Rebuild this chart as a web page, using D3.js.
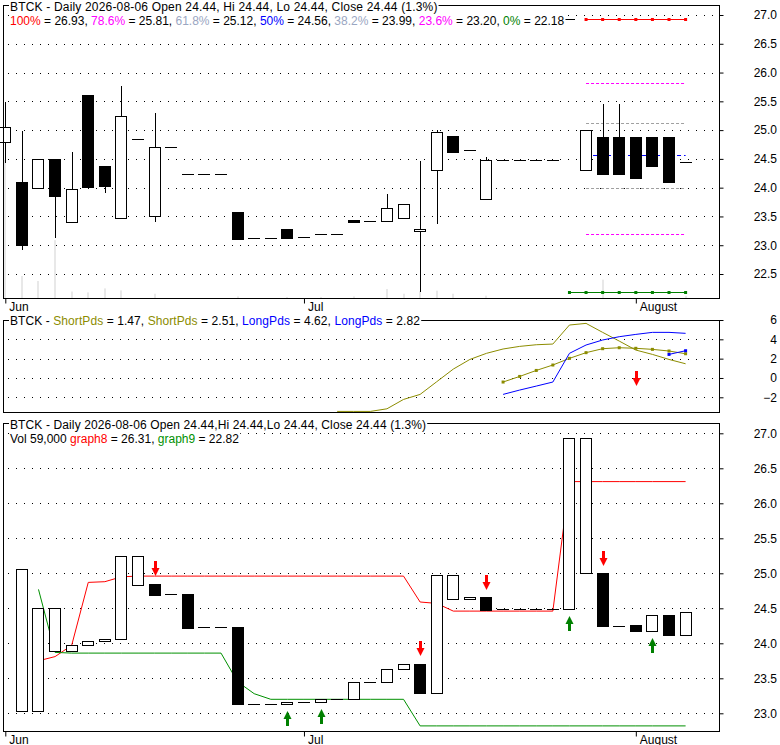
<!DOCTYPE html>
<html>
<head>
<meta charset="utf-8">
<script src="https://cdn.jsdelivr.net/npm/d3@7"></script>
<style>
  body { margin: 0; background: #fff; }
  svg { display: block; font-family: Arial, "Liberation Sans", sans-serif; font-size: 12px; }
  text { white-space: pre; }
</style>
</head>
<body>
<svg id="chart"></svg>
<script>
// ---- data ----
const months = ["Jun", "Jul", "August"];
const monthStart = [0, 18, 38];   // bar index where each month begins

const open  = [24.79, 24.10, 23.99, 24.49, 23.40, 25.61, 24.38, 23.47, 24.84, 23.51, 24.70, 24.23, 24.23, 24.23,
               23.58, 23.12, 23.12, 23.28, 23.14, 23.19, 23.19, 23.44, 23.42, 23.42, 23.47, 23.24, 24.30, 24.89,
               24.65, 23.80, 24.48, 24.48, 24.48, 24.48, 26.93, 24.31, 24.88, 24.88, 24.88, 24.88, 24.88, 24.44];
const high  = [25.49, 24.99, 24.49, 24.49, 24.62, 25.61, 24.38, 25.77, 24.84, 25.30, 24.70, 24.23, 24.23, 24.23,
               23.58, 23.12, 23.12, 23.28, 23.14, 23.19, 23.19, 23.44, 23.42, 23.89, 23.71, 24.46, 25.00, 24.89,
               24.65, 24.53, 24.48, 24.48, 24.48, 24.48, 26.93, 25.00, 25.45, 25.45, 24.88, 24.88, 24.88, 24.44];
const low   = [24.43, 22.91, 23.99, 23.13, 23.40, 24.02, 23.91, 23.47, 24.84, 23.41, 24.70, 24.23, 24.23, 24.23,
               23.11, 23.12, 23.12, 23.13, 23.14, 23.19, 23.19, 23.41, 23.42, 23.42, 23.47, 22.18, 23.37, 24.62,
               24.65, 23.80, 24.48, 24.48, 24.48, 24.48, 26.93, 24.31, 24.24, 24.24, 24.16, 24.38, 24.10, 24.44];
const close = [25.05, 23.01, 24.49, 23.86, 23.97, 24.02, 24.03, 25.24, 24.84, 24.70, 24.70, 24.23, 24.23, 24.23,
               23.11, 23.12, 23.12, 23.13, 23.14, 23.19, 23.19, 23.41, 23.42, 23.64, 23.71, 23.29, 24.96, 24.62,
               24.65, 24.48, 24.48, 24.48, 24.48, 24.48, 26.93, 25.00, 24.24, 24.24, 24.16, 24.38, 24.10, 24.44];
const volume = [3770000, 600000, 465000, 1580000, 177000, 153000, 262000, 207000, 0, 117000, 0, 0, 0, 0,
                44000, 0, 0, 27000, 0, 27000, 0, 44000, 0, 246000, 117000, 180000, 199000, 117000,
                0, 63000, 0, 0, 0, 0, 0, 0, 500000, 0, 0, 0, 0, 59000];

const fibLabels = ["100%", "78.6%", "61.8%", "50%", "38.2%", "23.6%", "0%"];
const fibValues = [26.93, 25.81, 25.12, 24.56, 23.99, 23.20, 22.18];
const fibFrom   = [35, 35, 35, 35, 35, 35, 34];

// middle panel series: first bar index + values
const shortPdsAFrom = 20;
const shortPdsA = [-3.46, -3.46, -3.46, -3.19, -2.22, -1.70, -0.39, 0.92, 1.92, 2.55, 3.00,
                   3.27, 3.44, 3.51, 5.48, 5.65, 4.72, 3.82, 2.89, 2.44, 1.92, 1.47];
const shortPdsBFrom = 30;
const shortPdsB = [-0.42, 0.16, 0.78, 1.34, 2.03, 2.62, 3.03, 3.13, 3.07, 2.96, 2.79, 2.51];
const longPdsAFrom = 30;
const longPdsA = [-1.70, -1.25, -0.84, -0.42, 2.55, 3.41, 3.93, 4.27, 4.51, 4.72, 4.72, 4.62];
const longPdsBFrom = 40;
const longPdsB = [2.44, 2.82];
const pdsDownBars = [38];
const pdsDownAt = [-0.79];

// lower panel: box from / to
const lowerFrom = [null, 23.04, 23.04, 23.89, 23.89, 23.97, 24.03, 24.06, 24.84, 24.85, 24.70, 24.70, 24.23, 24.23,
                   24.23, 23.13, 23.13, 23.13, 23.16, 23.16, 23.20, 23.20, 23.44, 23.44, 23.64, 23.71, 23.29, 24.63,
                   24.63, 24.66, 24.49, 24.49, 24.49, 24.49, 24.49, 25.00, 25.00, 24.25, 24.26, 24.17, 24.40, 24.12];
const lowerTo   = [null, 25.06, 24.50, 24.50, 23.97, 24.03, 24.06, 25.25, 25.25, 24.69, 24.70, 24.22, 24.23, 24.23,
                   23.13, 23.13, 23.13, 23.16, 23.16, 23.20, 23.20, 23.44, 23.44, 23.64, 23.71, 23.29, 24.97, 24.97,
                   24.66, 24.48, 24.49, 24.49, 24.49, 24.49, 26.93, 26.93, 24.25, 24.25, 24.17, 24.40, 24.12, 24.44];
const graph8 = [null, null, 23.75, 23.81, 23.97, 24.87, 24.88, 24.95, 24.96, 24.96, 24.96, 24.96, 24.96, 24.96,
                24.96, 24.96, 24.96, 24.96, 24.96, 24.96, 24.96, 24.96, 24.96, 24.96, 24.96, 24.59, 24.57, 24.46,
                24.46, 24.46, 24.46, 24.46, 24.46, 24.46, 26.31, 26.31, 26.31, 26.31, 26.31, 26.31, 26.31, 26.31];
const graph9 = [null, null, 24.77, 23.87, 23.86, 23.86, 23.86, 23.86, 23.86, 23.86, 23.86, 23.86, 23.86, 23.86,
                23.45, 23.28, 23.20, 23.20, 23.20, 23.20, 23.20, 23.20, 23.20, 23.20, 23.20, 22.82, 22.82, 22.82,
                22.82, 22.82, 22.82, 22.82, 22.82, 22.82, 22.82, 22.82, 22.82, 22.82, 22.82, 22.82, 22.82, 22.82];
const lowerDownBars = [9, 25, 29, 36];
const lowerDownAt   = [24.96, 23.82, 24.76, 25.11];
const lowerUpBars   = [17, 19, 34, 39];
const lowerUpAt     = [23.03, 23.06, 24.39, 24.08];

const lastDate = "2026-08-06";
const lastOpen = 24.44, lastHi = 24.44, lastLo = 24.44, lastClose = 24.44, lastChange = "1.3%";
const lastVol = 59000;

// ---- styles ----
const RED = "#ff0000", MAGENTA = "#ff00ff", SLATE = "#9aa6c2", BLUE = "#0000ff",
      GREEN = "#008000", OLIVE = "#8c8c00", GRAYLINE = "#a0a0a0", VOLGRAY = "#e8e8e8", DARKGREEN = "#009000";
const fibTextColors = [RED, MAGENTA, SLATE, BLUE, SLATE, MAGENTA, GREEN];
const fibLineColors = [RED, MAGENTA, GRAYLINE, BLUE, GRAYLINE, MAGENTA, GREEN];
const fibDash = [null, "3,2", "3,2", "4,3", "3,2", "3,2", null];

const W = 780, H = 745;
const left = 3.5, right = 719.5;
const px = v => Math.round(v) + 0.5;

const svg = d3.select("#chart").attr("width", W).attr("height", H);

const x = d3.scaleLinear().domain([0, 41]).range([5.3, 685.6]);
const yPrice = d3.scaleLinear().domain([22.5, 27]).range([274, 15]);
const yVol = d3.scaleLinear().domain([0, 8000000]).range([298, 5]);
const yPds = d3.scaleLinear().domain([-2, 6]).range([397.3, 320]);
const yLower = d3.scaleLinear().domain([23, 27]).range([713.3, 433.3]);

const panels = [
  {top: 5.5, bottom: 298.5},
  {top: 320.5, bottom: 412.5},
  {top: 423.5, bottom: 731.5}
];

// dotted horizontal grid
function grid(g, y, values) {
  g.append("g").selectAll("line")
    .data(values)
    .join("line")
    .attr("x1", 8).attr("x2", right)
    .attr("y1", d => px(y(d))).attr("y2", d => px(y(d)))
    .attr("stroke", "#000")
    .attr("stroke-dasharray", "1,7");
}

// right value axis, labels right aligned at the window edge
function valueAxis(g, y, values, fmt) {
  const ax = g.append("g")
    .attr("transform", `translate(${right},0)`)
    .call(d3.axisRight(y).tickValues(values).tickSize(4).tickFormat(fmt));
  ax.select(".domain").remove();
  ax.selectAll("line").attr("stroke", "#000");
  ax.selectAll("text")
    .attr("x", 777 - right).attr("text-anchor", "end")
    .attr("font-size", 12).attr("font-family", null).attr("fill", "#000");
}

// month axis under a panel
function monthAxis(g, bottom) {
  const ax = g.append("g")
    .attr("transform", `translate(0,${bottom})`)
    .call(d3.axisBottom(x).tickValues(monthStart).tickSize(5).tickFormat((d, i) => months[i]));
  ax.select(".domain").remove();
  ax.selectAll("line").attr("stroke", "#000");
  ax.selectAll("text")
    .attr("x", 3.5).attr("y", 12).attr("dy", null)
    .attr("text-anchor", "start")
    .attr("font-size", 12).attr("font-family", null).attr("fill", "#000");
}

function frame(p) {
  svg.append("rect")
    .attr("x", left).attr("y", p.top)
    .attr("width", right - left).attr("height", p.bottom - p.top)
    .attr("fill", "none").attr("stroke", "#000");
}

// boxes + flat dashes
function drawBoxes(g, y, bars) {
  const flat = bars.filter(d => Math.abs(d.o - d.c) < 0.005);
  const body = bars.filter(d => Math.abs(d.o - d.c) >= 0.005);
  g.append("g").selectAll("line")
    .data(flat)
    .join("line")
    .attr("x1", d => Math.round(x(d.i)) - 6).attr("x2", d => Math.round(x(d.i)) + 6)
    .attr("y1", d => px(y(d.c))).attr("y2", d => px(y(d.c)))
    .attr("stroke", "#000");
  g.append("g").selectAll("rect")
    .data(body)
    .join("rect")
    .attr("x", d => Math.round(x(d.i)) - 5.5)
    .attr("width", 11)
    .attr("y", d => px(y(Math.max(d.o, d.c))))
    .attr("height", d => Math.max(1, px(y(Math.min(d.o, d.c))) - px(y(Math.max(d.o, d.c)))))
    .attr("fill", d => d.c > d.o ? "#fff" : "#000")
    .attr("stroke", "#000");
}

function squares(g, pts, color) {
  g.append("g").selectAll("rect")
    .data(pts)
    .join("rect")
    .attr("x", d => x(d.i) - 1.5).attr("y", d => d.y - 1.5)
    .attr("width", 3).attr("height", 3)
    .attr("fill", color);
}

const downArrow = "M-1.5,-15H1.5V-8H4L0,0L-4,-8H-1.5Z";
const upArrow = "M-1.5,15H1.5V8H4L0,0L-4,8H-1.5Z";
function arrows(g, bars, at, y, shape, color) {
  g.append("g").selectAll("path")
    .data(bars)
    .join("path")
    .attr("d", shape)
    .attr("transform", (d, k) => `translate(${Math.round(x(d)) + 0.5},${Math.round(y(at[k]))})`)
    .attr("fill", color);
}

function header(x0, baseline, parts, spacing) {
  const t = svg.append("text").attr("x", x0).attr("y", baseline)
    .attr("letter-spacing", spacing || 0);
  parts.forEach(([s, c]) => t.append("tspan").attr("fill", c || "#000").text(s));
  const b = t.node().getBBox();
  svg.insert("rect", () => t.node())
    .attr("x", b.x - 1).attr("y", b.y)
    .attr("width", b.width + 2).attr("height", b.height)
    .attr("fill", "#fff");
}

const idx = d3.range(open.length);

// ================= price panel =================
const gPrice = svg.append("g");

gPrice.append("g").selectAll("rect")
  .data(idx.filter(i => volume[i] > 0))
  .join("rect")
  .attr("x", i => Math.round(x(i)) - 1)
  .attr("width", 2)
  .attr("y", i => yVol(volume[i]))
  .attr("height", i => yVol(0) - yVol(volume[i]))
  .attr("fill", VOLGRAY);

const priceTicks = d3.range(22.5, 27.01, 0.5);
grid(gPrice, yPrice, priceTicks);
valueAxis(gPrice, yPrice, priceTicks, d3.format(".1f"));
monthAxis(gPrice, panels[0].bottom);

// fibonacci levels
fibValues.forEach((v, k) => {
  const ln = gPrice.append("line")
    .attr("x1", x(fibFrom[k])).attr("x2", x(41))
    .attr("y1", px(yPrice(v))).attr("y2", px(yPrice(v)))
    .attr("stroke", fibLineColors[k]);
  if (fibDash[k]) ln.attr("stroke-dasharray", fibDash[k]);
  if (!fibDash[k]) {
    squares(gPrice, d3.range(fibFrom[k], 42).map(i => ({i, y: px(yPrice(v))})), fibLineColors[k]);
  }
});

// wicks
gPrice.append("g").selectAll("line")
  .data(idx.filter(i => high[i] - low[i] > 0.005))
  .join("line")
  .attr("x1", i => Math.round(x(i)) + 0.5).attr("x2", i => Math.round(x(i)) + 0.5)
  .attr("y1", i => Math.round(yPrice(high[i]))).attr("y2", i => Math.round(yPrice(low[i])))
  .attr("stroke", "#000");

drawBoxes(gPrice, yPrice, idx.map(i => ({i, o: open[i], c: close[i]})));

// ================= pds panel =================
const gPds = svg.append("g");
grid(gPds, yPds, [-2, 0, 2, 4]);
valueAxis(gPds, yPds, [-2, 0, 2, 4, 6], d3.format("d"));

const pdsLine = from => d3.line().x((d, k) => x(from + k)).y(d => yPds(d));
[[shortPdsA, shortPdsAFrom, OLIVE], [shortPdsB, shortPdsBFrom, OLIVE],
 [longPdsA, longPdsAFrom, BLUE], [longPdsB, longPdsBFrom, BLUE]].forEach(([vals, from, c]) => {
  gPds.append("path")
    .attr("d", pdsLine(from)(vals))
    .attr("fill", "none").attr("stroke", c).attr("stroke-width", 1);
});
squares(gPds, shortPdsB.map((v, k) => ({i: shortPdsBFrom + k, y: yPds(v)})), OLIVE);
squares(gPds, longPdsB.map((v, k) => ({i: longPdsBFrom + k, y: yPds(v)})), BLUE);
arrows(gPds, pdsDownBars, pdsDownAt, yPds, downArrow, RED);

// ================= lower panel =================
const gLow = svg.append("g");
const lowerTicks = d3.range(23, 27.01, 0.5);
grid(gLow, yLower, lowerTicks);
valueAxis(gLow, yLower, lowerTicks, d3.format(".1f"));
monthAxis(gLow, panels[2].bottom);

const lowLine = d3.line()
  .defined(d => d != null)
  .x((d, i) => x(i))
  .y(d => yLower(d));
gLow.append("path").attr("d", lowLine(graph8)).attr("fill", "none").attr("stroke", RED);
gLow.append("path").attr("d", lowLine(graph9)).attr("fill", "none").attr("stroke", DARKGREEN);

drawBoxes(gLow, yLower, idx.filter(i => lowerFrom[i] != null).map(i => ({i, o: lowerFrom[i], c: lowerTo[i]})));

arrows(gLow, lowerDownBars, lowerDownAt, yLower, downArrow, RED);
arrows(gLow, lowerUpBars, lowerUpAt, yLower, upArrow, GREEN);

// frames
panels.forEach(frame);

// ================= headers =================
const f2 = d3.format(".2f");
header(10, 11, [[`BTCK - Daily ${lastDate} Open ${f2(lastOpen)}, Hi ${f2(lastHi)}, Lo ${f2(lastLo)}, Close ${f2(lastClose)} (${lastChange})`]], 0.18);
header(10, 25, fibLabels.flatMap((lab, k) => [[lab, fibTextColors[k]],
  [` = ${f2(fibValues[k])}${k < fibLabels.length - 1 ? ", " : ""}`]]));

header(10, 325, [["BTCK - "], ["ShortPds", OLIVE], [` = ${f2(shortPdsA[shortPdsA.length - 1])}, `],
  ["ShortPds", OLIVE], [` = ${f2(shortPdsB[shortPdsB.length - 1])}, `],
  ["LongPds", BLUE], [` = ${f2(longPdsA[longPdsA.length - 1])}, `],
  ["LongPds", BLUE], [` = ${f2(longPdsB[longPdsB.length - 1])}`]], 0.08);

header(10, 429, [[`BTCK - Daily ${lastDate} Open ${f2(lastOpen)},Hi ${f2(lastHi)},Lo ${f2(lastLo)}, Close ${f2(lastClose)} (${lastChange})`]], 0.12);
header(10, 443, [[`Vol ${d3.format(",")(lastVol)} `], ["graph8", RED], [` = ${f2(graph8[41])}, `],
  ["graph9", DARKGREEN], [` = ${f2(graph9[41])}`]]);
</script>
</body>
</html>
